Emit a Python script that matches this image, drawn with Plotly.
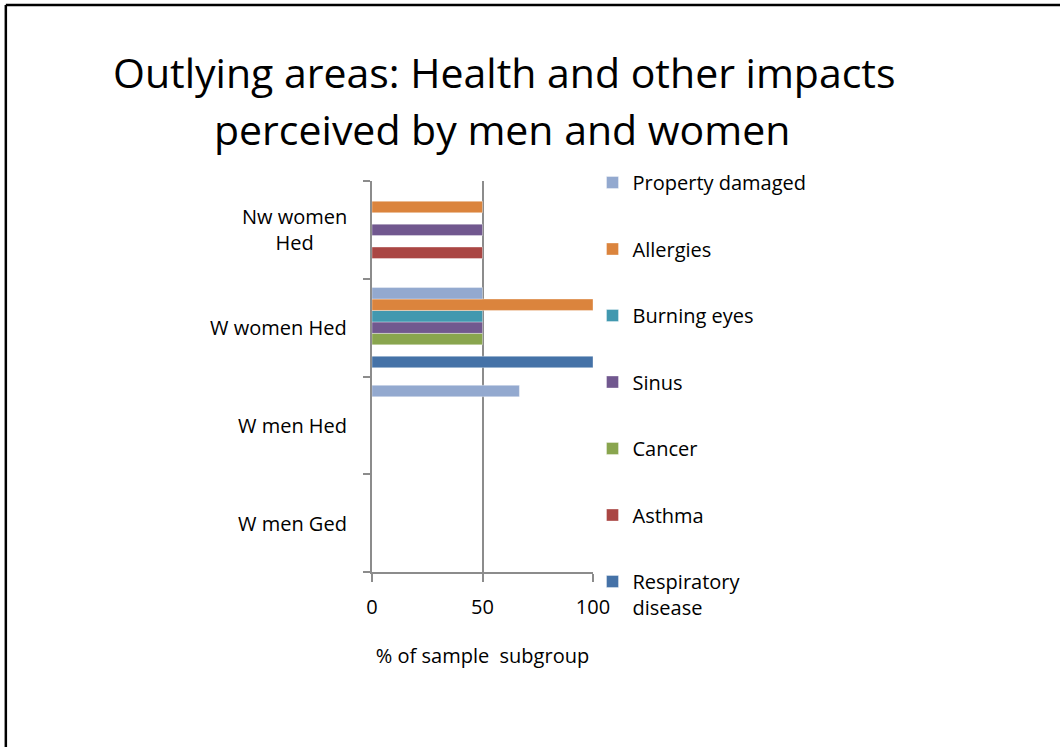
import plotly.graph_objects as go

# Subgroups, bottom to top
groups = ["W men Ged", "W men Hed", "W women Hed", "Nw women Hed"]
group_labels = ["W men Ged", "W men Hed", "W women Hed", "Nw women<br>Hed"]

# Series in drawing order (first drawn sits lowest in each group)
series_names = ["Respiratory disease", "Asthma", "Cancer", "Sinus",
                "Burning eyes", "Allergies", "Property damaged"]
legend_labels = ["Respiratory<br>disease", "Asthma", "Cancer", "Sinus",
                 "Burning eyes", "Allergies", "Property damaged"]
series_colors = ["#4572A7", "#AA4643", "#89A54E", "#71588F",
                 "#4198AF", "#DB843D", "#93A9CF"]

# % of sample subgroup, per series, following `groups`
respiratory = [0, 0, 100, 0]
asthma = [0, 0, 0, 50]
cancer = [0, 0, 50, 0]
sinus = [0, 0, 50, 50]
burning_eyes = [0, 0, 50, 0]
allergies = [0, 0, 100, 50]
property_damaged = [0, 66.7, 50, 0]
series_values = [respiratory, asthma, cancer, sinus,
                 burning_eyes, allergies, property_damaged]

x_ticks = [0, 50, 100]

FONT = "Open Sans"
FS = 20
W, H = 1060, 747
L, R, T, B = 372, 466.5, 181, 175
PW, PH = W - L - R, H - T - B

def px_x(px):
    return (px - L) / PW

def px_y(py):
    return (H - B - py) / PH

fig = go.Figure()
n = len(series_names)
for i, (name, lab, col, vals) in enumerate(zip(series_names, legend_labels, series_colors, series_values)):
    fig.add_trace(go.Bar(
        y=groups, x=vals, orientation="h", name=lab,
        legendgroup=name, legendrank=n - i,
        marker=dict(color=col, line=dict(color="rgba(255,255,255,0.35)", width=1)),
        hovertemplate=name + ": %{x}<extra>%{y}</extra>",
    ))

annotations = [
    dict(text="Outlying areas: Health and other impacts", x=px_x(505), y=px_y(72),
         xref="paper", yref="paper", xanchor="center", yanchor="middle",
         showarrow=False, font=dict(family=FONT, size=41, color="#000")),
    dict(text="perceived by men and women", x=px_x(502), y=px_y(129),
         xref="paper", yref="paper", xanchor="center", yanchor="middle",
         showarrow=False, font=dict(family=FONT, size=41, color="#000")),
]
for g, lab in zip(groups, group_labels):
    annotations.append(dict(
        text=lab, x=px_x(349), y=g, xref="paper", yref="y",
        xanchor="right", yanchor="middle", align="center", showarrow=False,
        font=dict(family=FONT, size=FS, color="#000")))

shapes = [
    dict(type="line", xref="paper", yref="paper", x0=px_x(5), x1=px_x(1070),
         y0=px_y(5), y1=px_y(5), line=dict(color="#000", width=2.5)),
    dict(type="line", xref="paper", yref="paper", x0=px_x(5), x1=px_x(5),
         y0=px_y(5), y1=px_y(760), line=dict(color="#000", width=2.5)),
]

fig.update_layout(
    width=W, height=H, autosize=False,
    margin=dict(l=L, r=R, t=T, b=B, pad=0),
    paper_bgcolor="white", plot_bgcolor="white",
    barmode="group", bargap=0.18, bargroupgap=0,
    font=dict(family=FONT, size=FS, color="#000"),
    showlegend=True,
    legend=dict(x=px_x(593), y=px_y(163), xanchor="left", yanchor="top",
                traceorder="grouped", tracegroupgap=37.5, maxheight=700,
                valign="top", font=dict(family=FONT, size=FS, color="#000"),
                itemwidth=30, bgcolor="rgba(0,0,0,0)"),
    annotations=annotations,
    shapes=shapes,
    xaxis=dict(range=[0, 100], tickvals=x_ticks, ticktext=[str(v) for v in x_ticks],
               showgrid=True, gridcolor="#8c8c8c", gridwidth=2,
               showline=True, linecolor="#8c8c8c", linewidth=2,
               ticks="outside", ticklen=8, tickwidth=2, tickcolor="#8c8c8c",
               ticklabelstandoff=8, zeroline=False,
               title=dict(text="% of sample  subgroup", standoff=30,
                          font=dict(family=FONT, size=FS, color="#000")),
               tickfont=dict(family=FONT, size=FS, color="#000"), fixedrange=True),
    yaxis=dict(type="category", categoryorder="array", categoryarray=groups,
               showticklabels=False, showgrid=False,
               showline=True, linecolor="#8c8c8c", linewidth=2,
               ticks="outside", ticklen=7, tickwidth=2, tickcolor="#8c8c8c",
               tickson="boundaries", zeroline=False, fixedrange=True),
)

fig.write_html("out.html")
